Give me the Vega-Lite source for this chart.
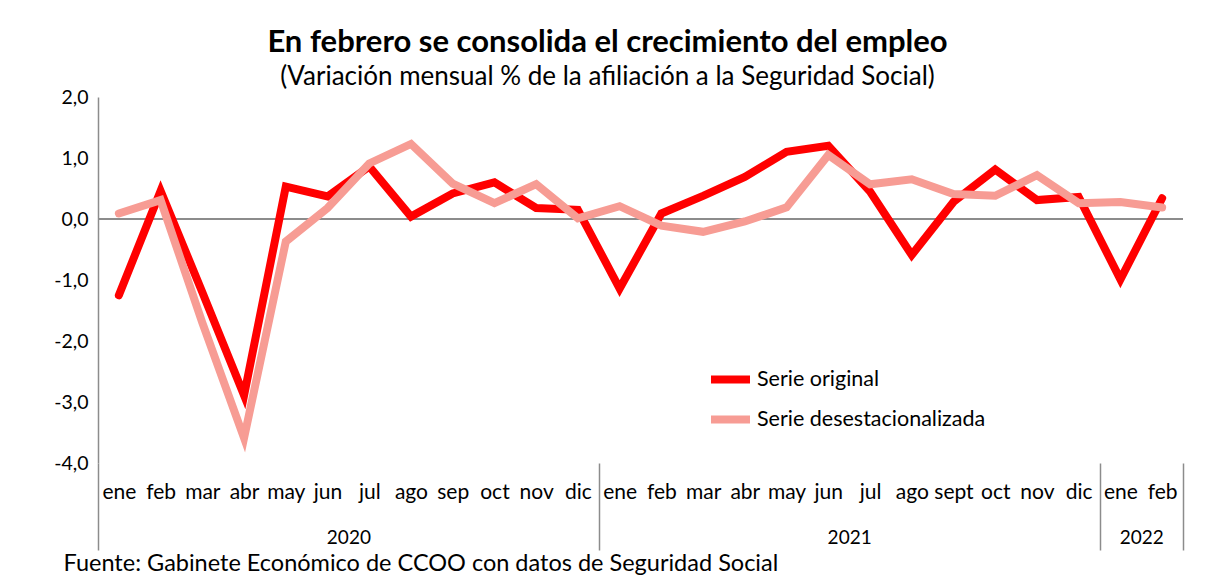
{
  "$schema": "https://vega.github.io/schema/vega-lite/v6.json",
  "autosize": "none",
  "width": 1085,
  "height": 366,
  "padding": {"left": 98, "top": 97, "right": 22, "bottom": 120},
  "background": "white",
  "config": {
    "font": "Lato",
    "view": {"stroke": null},
    "axis": {"labelFont": "Lato", "labelColor": "#000", "titleFont": "Lato", "titleColor": "#000"},
    "legend": {"labelFont": "Lato", "labelColor": "#000"}
  },
  "title": {
    "text": "En febrero se consolida el crecimiento del empleo",
    "subtitle": "(Variación mensual % de la afiliación a la Seguridad Social)",
    "anchor": "middle",
    "dx": -33,
    "offset": -4,
    "font": "Lato",
    "fontSize": 31,
    "fontWeight": "bold",
    "color": "#000",
    "subtitleFont": "Lato",
    "subtitleFontSize": 26,
    "subtitleColor": "#000",
    "subtitlePadding": 5
  },
  "data": {
    "values": [
      {"i": 0, "mes": "ene", "anio": 2020, "original": -1.25, "desest": 0.09},
      {"i": 1, "mes": "feb", "anio": 2020, "original": 0.46, "desest": 0.31},
      {"i": 2, "mes": "mar", "anio": 2020, "original": -1.2, "desest": -1.7},
      {"i": 3, "mes": "abr", "anio": 2020, "original": -2.89, "desest": -3.59},
      {"i": 4, "mes": "may", "anio": 2020, "original": 0.53, "desest": -0.37},
      {"i": 5, "mes": "jun", "anio": 2020, "original": 0.37, "desest": 0.18},
      {"i": 6, "mes": "jul", "anio": 2020, "original": 0.86, "desest": 0.91},
      {"i": 7, "mes": "ago", "anio": 2020, "original": 0.04, "desest": 1.23},
      {"i": 8, "mes": "sep", "anio": 2020, "original": 0.42, "desest": 0.58},
      {"i": 9, "mes": "oct", "anio": 2020, "original": 0.6, "desest": 0.26},
      {"i": 10, "mes": "nov", "anio": 2020, "original": 0.18, "desest": 0.57},
      {"i": 11, "mes": "dic", "anio": 2020, "original": 0.15, "desest": 0.01},
      {"i": 12, "mes": "ene", "anio": 2021, "original": -1.14, "desest": 0.21},
      {"i": 13, "mes": "feb", "anio": 2021, "original": 0.09, "desest": -0.11},
      {"i": 14, "mes": "mar", "anio": 2021, "original": 0.38, "desest": -0.21},
      {"i": 15, "mes": "abr", "anio": 2021, "original": 0.69, "desest": -0.04},
      {"i": 16, "mes": "may", "anio": 2021, "original": 1.1, "desest": 0.19},
      {"i": 17, "mes": "jun", "anio": 2021, "original": 1.2, "desest": 1.05},
      {"i": 18, "mes": "jul", "anio": 2021, "original": 0.45, "desest": 0.57},
      {"i": 19, "mes": "ago", "anio": 2021, "original": -0.59, "desest": 0.65},
      {"i": 20, "mes": "sept", "anio": 2021, "original": 0.28, "desest": 0.41},
      {"i": 21, "mes": "oct", "anio": 2021, "original": 0.81, "desest": 0.38},
      {"i": 22, "mes": "nov", "anio": 2021, "original": 0.31, "desest": 0.72},
      {"i": 23, "mes": "dic", "anio": 2021, "original": 0.36, "desest": 0.26},
      {"i": 24, "mes": "ene", "anio": 2022, "original": -0.99, "desest": 0.28},
      {"i": 25, "mes": "feb", "anio": 2022, "original": 0.34, "desest": 0.19}
    ]
  },
  "layer": [
    {
      "mark": {"type": "rule", "color": "#8c8c8c", "strokeWidth": 1.5},
      "encoding": {"y": {"datum": 0, "type": "quantitative"}}
    },
    {
      "mark": {"type": "line", "strokeWidth": 8, "strokeCap": "round", "strokeJoin": "miter"},
      "encoding": {
        "x": {
          "field": "i", "type": "quantitative",
          "scale": {"domain": [-0.5, 25.5], "nice": false, "zero": false},
          "axis": {
            "orient": "bottom",
            "values": [0,1,2,3,4,5,6,7,8,9,10,11,12,13,14,15,16,17,18,19,20,21,22,23,24,25],
            "labelExpr": "['ene','feb','mar','abr','may','jun','jul','ago','sep','oct','nov','dic','ene','feb','mar','abr','may','jun','jul','ago','sept','oct','nov','dic','ene','feb'][datum.value]",
            "domain": false, "ticks": false, "grid": false,
            "labelFontSize": 21, "labelPadding": 18, "labelFlush": false, "labelOverlap": false,
            "title": "Fuente: Gabinete Económico de CCOO con datos de Seguridad Social",
            "titleAnchor": "start", "titleAlign": "left", "titleBaseline": "alphabetic",
            "titleX": -35, "titleY": 107, "titleFontSize": 23.5, "titleFontWeight": "normal"
          }
        },
        "y": {
          "field": "original", "type": "quantitative",
          "scale": {"domain": [-4, 2], "nice": false, "zero": false},
          "axis": {
            "values": [-4, -3, -2, -1, 0, 1, 2],
            "labelExpr": "replace(replace(format(datum.value, '.1f'), '.', ','), '\u2212', '-')",
            "title": null, "grid": false, "ticks": false,
            "domainColor": "#8c8c8c", "domainWidth": 1.5,
            "labelFontSize": 19.5, "labelPadding": 10
          }
        },
        "color": {
          "datum": "Serie original",
          "scale": {"domain": ["Serie original", "Serie desestacionalizada"], "range": ["#ff0000", "#f79c94"]},
          "legend": {
            "title": null, "orient": "none", "legendX": 609, "legendY": 259,
            "symbolType": "stroke", "symbolStrokeWidth": 8, "symbolSize": 1521,
            "labelFontSize": 21.5, "labelOffset": 3, "rowPadding": 0, "labelLimit": 400
          }
        }
      }
    },
    {
      "mark": {"type": "line", "strokeWidth": 8, "strokeCap": "round", "strokeJoin": "miter"},
      "encoding": {
        "x": {
          "field": "i", "type": "quantitative",
          "axis": {
            "orient": "bottom",
            "values": [-0.5, 5.5, 11.5, 17.5, 23.5, 24.5, 25.5],
            "labelExpr": "datum.value == 5.5 ? '2020' : datum.value == 17.5 ? '2021' : datum.value == 24.5 ? '2022' : ''",
            "domain": false, "grid": false,
            "tickSize": 87, "tickColor": "#8c8c8c", "tickWidth": 1.5,
            "tickOpacity": {"condition": {"test": "datum.value == 5.5 || datum.value == 17.5 || datum.value == 24.5", "value": 0}, "value": 1},
            "labelFontSize": 19, "labelPadding": -22, "labelFlush": false, "labelOverlap": false,
            "title": null
          }
        },
        "y": {"field": "desest", "type": "quantitative"},
        "color": {"datum": "Serie desestacionalizada"}
      }
    }
  ],
  "resolve": {"axis": {"x": "independent"}}
}
